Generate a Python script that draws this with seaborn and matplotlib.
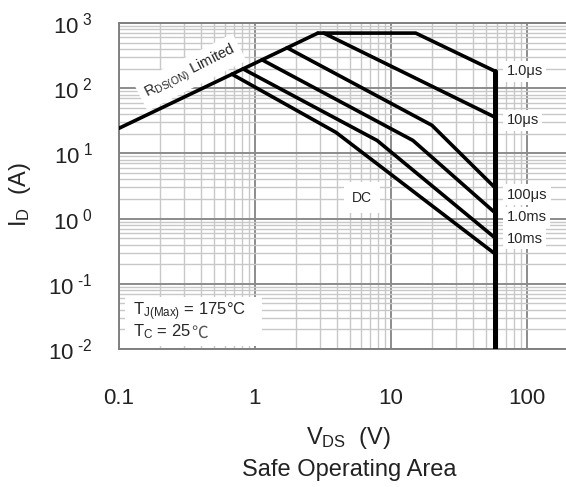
import numpy as np
import pandas as pd
import seaborn as sns
import matplotlib
matplotlib.use("Agg")
import matplotlib.pyplot as plt
from matplotlib.patches import Rectangle
from matplotlib.ticker import LogLocator, NullFormatter, FixedLocator, FixedFormatter

# Safe operating area curves (VDS in V, ID in A)
rds_v = [0.1, 2.9]
rds_i = [24.3, 700]
us1_v = [2.9, 15.2, 58]
us1_i = [700, 700, 183]
us10_v = [3.2, 58]
us10_i = [700, 36]
us100_v = [1.72, 20, 58]
us100_i = [418, 27, 3.0]
ms1_v = [1.125, 14.5, 58]
ms1_i = [273, 15.8, 1.24]
ms10_v = [0.816, 7.9, 58]
ms10_i = [198, 15.8, 0.51]
dc_v = [0.677, 3.94, 58]
dc_i = [164, 21, 0.29]
vmax_v = [58, 58]
vmax_i = [183, 0.01]

curve_labels = ["1.0\u03bcs", "10\u03bcs", "100\u03bcs", "1.0ms", "10ms"]
label_i = [183, 32.2, 2.34, 1.04, 0.49]

x_ticks = [0.1, 1, 10, 100]
x_tick_labels = ["0.1", "1", "10", "100"]
y_ticks = [0.01, 0.1, 1, 10, 100, 1000]
y_tick_labels = [r"$\mathregular{10^{\ \text{-}2}}$", r"$\mathregular{10^{\ \text{-}1}}$",
                 r"$\mathregular{10^{\ 0}}$", r"$\mathregular{10^{\ 1}}$",
                 r"$\mathregular{10^{\ 2}}$", r"$\mathregular{10^{\ 3}}$"]

sns.set_style("white")
plt.rcParams['font.family'] = ['Liberation Sans', 'DejaVu Sans', 'Noto Sans CJK SC']
plt.rcParams['mathtext.fontset'] = 'custom'
plt.rcParams['mathtext.rm'] = 'Liberation Sans'
plt.rcParams['mathtext.it'] = 'Liberation Sans:italic'
plt.rcParams['mathtext.bf'] = 'Liberation Sans:bold'

fig = plt.figure(figsize=(5.66, 4.87), dpi=100)
ax = fig.add_axes([119 / 566, 1 - 349 / 487, 447 / 566, 326 / 487])
ax.set_xscale('log')
ax.set_yscale('log')

# curves
for v, i, lw in [(rds_v, rds_i, 2.6), (us1_v, us1_i, 2.6), (us10_v, us10_i, 2.6),
                 (us100_v, us100_i, 2.6), (ms1_v, ms1_i, 2.6), (ms10_v, ms10_i, 2.6),
                 (dc_v, dc_i, 2.6), (vmax_v, vmax_i, 3.6)]:
    df = pd.DataFrame({'V': v, 'I': i})
    sns.lineplot(data=df, x='V', y='I', ax=ax, color='black', linewidth=lw,
                 sort=False, estimator=None, zorder=3)

ax.set_xlim(0.1, 193.7)
ax.set_ylim(0.01, 1000)

# grid
ax.xaxis.set_major_locator(FixedLocator(x_ticks))
ax.xaxis.set_major_formatter(FixedFormatter(x_tick_labels))
ax.yaxis.set_major_locator(FixedLocator(y_ticks))
ax.yaxis.set_major_formatter(FixedFormatter(y_tick_labels))
ax.xaxis.set_minor_locator(LogLocator(base=10, subs=np.arange(2, 10), numticks=20))
ax.yaxis.set_minor_locator(LogLocator(base=10, subs=np.arange(2, 10), numticks=20))
ax.xaxis.set_minor_formatter(NullFormatter())
ax.yaxis.set_minor_formatter(NullFormatter())
ax.grid(True, which='minor', color='#c8c8c8', linewidth=1.0, zorder=0)
ax.grid(True, which='major', color='#8c8c8c', linewidth=1.4, zorder=0)
ax.set_axisbelow(True)
ax.tick_params(which='both', length=0)
ax.tick_params(axis='x', which='major', pad=28, labelsize=16, colors='#222222')
ax.tick_params(axis='y', which='major', pad=19, labelsize=16, colors='#222222')

for s in ['left', 'bottom', 'top']:
    ax.spines[s].set_color('#808080')
    ax.spines[s].set_linewidth(1.4)
ax.spines['right'].set_visible(False)

ax.set_xlabel('')
ax.set_ylabel('')

# curve labels
box = dict(facecolor='white', edgecolor='none', pad=2.5)
for txt, yi in zip(curve_labels, label_i):
    ax.text(71, yi, txt, fontsize=10.5, ha='left', va='center', bbox=box, zorder=4)
ax.text(6.12, 2.1, "DC", fontsize=10, ha='center', va='center',
        bbox=dict(facecolor='white', edgecolor='none', pad=6), zorder=4)
ax.text(0.333, 176, r"R$_{\mathregular{DS(ON)}}$ Limited", fontsize=10.5,
        ha='center', va='center', rotation=27, rotation_mode='anchor',
        bbox=dict(facecolor='white', edgecolor='none', pad=4), zorder=2)

# conditions box
ax.add_patch(Rectangle((0.013, 0.009), 0.307, 0.151, transform=ax.transAxes,
                       facecolor='white', edgecolor='none', zorder=2))
ax.text(0.031, 0.113, "T$_{\\mathregular{J(Max)}}$ = 175\u00b0C",
        transform=ax.transAxes, fontsize=12, ha='left', va='center', zorder=4)
tc = ax.text(0.031, 0.052, r"T$_{\mathregular{C}}$ = 25",
             transform=ax.transAxes, fontsize=12, ha='left', va='center', zorder=4)
ax.annotate("\u2103", xy=(1, 0), xycoords=tc, xytext=(0.5, 0),
            textcoords='offset points', fontsize=12, ha='left', va='bottom',
            family=['Noto Sans CJK SC', 'DejaVu Sans'], color='#555555', zorder=4)

# axis titles
fig.text(0.615, 1 - 438 / 487, r"V$_{\mathregular{DS}}$  (V)", fontsize=17,
         ha='center', va='center', color='#222222')
fig.text(0.617, 1 - 470 / 487, "Safe Operating Area", fontsize=17,
         ha='center', va='center', color='#222222')
fig.text(0.035, 1 - 195 / 487, r"I$_{\mathregular{D}}$  (A)", fontsize=17,
         ha='center', va='center', rotation=90, color='#222222')

fig.savefig('out.png', dpi=100)
